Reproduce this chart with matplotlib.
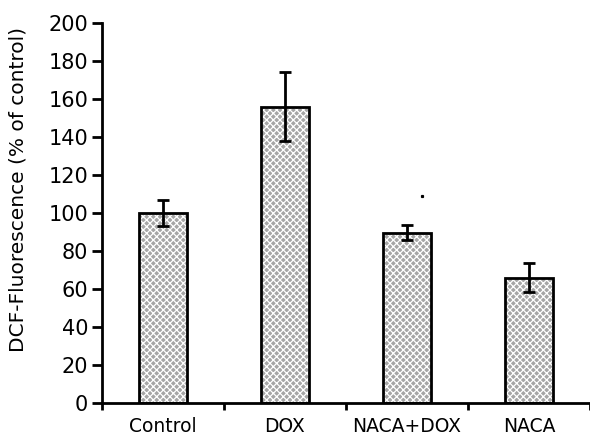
import matplotlib
matplotlib.use("Agg")
import matplotlib.pyplot as plt
import numpy as np

categories = ["Control", "DOX", "NACA+DOX", "NACA"]
values = [100, 156, 89.5, 66]
err_upper = [107, 174, 93.5, 73.5]
err_lower = [93, 138, 86, 58.5]
stray_dot = (2.12, 109)

plt.rcParams['font.family'] = ['DejaVu Sans']
plt.rcParams['hatch.linewidth'] = 0.9

fig = plt.figure(figsize=(5.9, 4.38), dpi=100)
ax = fig.add_axes([102/590, (438-403)/438, (590-102)/590, (403-23)/438])

x = np.arange(len(categories))
ax.bar(x, values, width=0.4, color='#a6a6a6', edgecolor='white', linewidth=0, hatch='xxxxx', zorder=2)
ax.bar(x, values, width=0.4, fill=False, edgecolor='black', linewidth=2, zorder=3)
vals = np.array(values)
yerr = np.array([vals - np.array(err_lower), np.array(err_upper) - vals])
ax.errorbar(x, vals, yerr=yerr, fmt='none', ecolor='black', elinewidth=2, capsize=4, capthick=2, zorder=4)
ax.plot([stray_dot[0]], [stray_dot[1]], marker='s', markersize=1.3, color='black', linestyle='none')

ax.set_xlim(-0.5, 3.5)
ax.set_ylim(0, 200)
ax.set_yticks(np.arange(0, 201, 20))
ax.set_xticks(x)
ax.set_xticklabels(categories, fontsize=13.5)
ax.set_xticks(np.arange(-0.5, 3.6, 1), minor=True)
ax.tick_params(axis='x', which='major', length=0, pad=10)
ax.tick_params(axis='x', which='minor', length=5, width=2, direction='out')
ax.tick_params(axis='y', length=7, width=2, direction='out', labelsize=15, pad=3)
ax.set_ylabel("DCF-Fluorescence (% of control)", fontsize=14.5)
ax.yaxis.set_label_coords(-0.152, (403-189)/380)

for s in ['top', 'right']:
    ax.spines[s].set_visible(False)
for s in ['left', 'bottom']:
    ax.spines[s].set_linewidth(2)

fig.savefig("out.png", dpi=100)
